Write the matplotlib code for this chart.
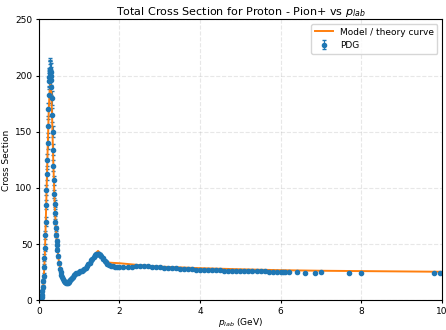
import matplotlib
matplotlib.use("Agg")
import matplotlib.pyplot as plt
import numpy as np

# PDG total cross section pi+ p
p_lab = [0.05, 0.07, 0.08, 0.09, 0.10, 0.11, 0.12, 0.13, 0.14, 0.15,
         0.16, 0.17, 0.18, 0.19, 0.20, 0.21, 0.22, 0.23, 0.24, 0.25,
         0.26, 0.265, 0.27, 0.275, 0.28, 0.285, 0.29, 0.295, 0.30, 0.305,
         0.31, 0.32, 0.33, 0.34, 0.35, 0.36, 0.37, 0.38, 0.39, 0.40,
         0.41, 0.42, 0.43, 0.44, 0.45, 0.46, 0.48, 0.50, 0.52, 0.54,
         0.56, 0.58, 0.60, 0.62, 0.64, 0.66, 0.68, 0.70, 0.72, 0.74,
         0.76, 0.78, 0.80, 0.82, 0.85, 0.88, 0.90, 0.93, 0.96, 1.00,
         1.03, 1.06, 1.10, 1.13, 1.16, 1.20, 1.23, 1.26, 1.30, 1.33,
         1.36, 1.40, 1.43, 1.46, 1.48, 1.50, 1.52, 1.55, 1.58, 1.60,
         1.63, 1.66, 1.70, 1.75, 1.80, 1.85, 1.90, 1.95, 2.00, 2.10,
         2.20, 2.30, 2.40, 2.50, 2.60, 2.70, 2.80, 2.90, 3.00, 3.10,
         3.20, 3.30, 3.40, 3.50, 3.60, 3.70, 3.80, 3.90, 4.00, 4.10,
         4.20, 4.30, 4.40, 4.50, 4.60, 4.70, 4.80, 4.90, 5.00, 5.10,
         5.20, 5.30, 5.40, 5.50, 5.60, 5.70, 5.80, 5.90, 6.00, 6.05,
         6.10, 6.20, 6.40, 6.60, 6.85, 7.00, 7.70, 8.00, 9.80, 9.95]
sigma = [1.0, 3.0, 5.0, 8.0, 12.0, 17.0, 22.0, 30.0, 38.0, 47.0,
         58.0, 70.0, 85.0, 98.0, 112.0, 125.0, 140.0, 155.0, 170.0, 183.0,
         195.0, 199.0, 202.0, 204.0, 205.0, 206.0, 204.0, 203.0, 200.0, 196.0,
         190.0, 180.0, 165.0, 150.0, 134.0, 120.0, 107.0, 95.0, 86.0, 78.0,
         70.0, 64.0, 58.0, 53.0, 49.0, 45.0, 39.0, 33.0, 28.0, 25.0,
         22.5, 20.5, 19.0, 17.5, 16.5, 16.0, 15.5, 15.3, 15.5, 16.0,
         16.8, 18.0, 19.0, 20.0, 21.0, 22.3, 23.0, 24.0, 24.6, 25.3,
         25.8, 26.4, 27.2, 28.0, 29.0, 30.5, 32.0, 33.5, 35.5, 37.0,
         38.5, 40.0, 40.8, 41.2, 41.5, 41.0, 40.5, 39.0, 37.5, 36.5,
         35.0, 33.8, 32.5, 31.5, 30.8, 30.3, 30.0, 29.8, 29.5, 29.4,
         29.6, 30.0, 30.5, 30.8, 30.7, 30.3, 29.9, 29.6, 29.3, 29.0,
         28.8, 28.6, 28.4, 28.2, 28.0, 27.8, 27.6, 27.4, 27.2, 27.0,
         26.9, 26.8, 26.7, 26.6, 26.5, 26.4, 26.3, 26.2, 26.1, 26.0,
         25.9, 25.9, 25.8, 25.7, 25.7, 25.6, 25.6, 25.5, 25.5, 25.2,
         25.4, 25.1, 25.0, 24.6, 24.5, 25.0, 24.5, 24.4, 24.3, 24.5]
sigma_err = [0.5, 0.8, 1.0, 1.2, 1.5, 2.0, 2.0, 2.5, 3.0, 3.0,
             3.5, 4.0, 4.0, 4.5, 5.0, 5.0, 5.5, 6.0, 6.0, 7.0,
             7.0, 8.0, 8.0, 9.0, 9.0, 10.0, 9.0, 8.0, 8.0, 7.0,
             7.0, 6.0, 6.0, 5.0, 5.0, 4.5, 4.0, 3.5, 3.0, 3.0,
             2.5, 2.5, 2.0, 2.0, 2.0, 1.5, 1.5, 1.2, 1.0, 1.0,
             0.8, 0.8, 0.8, 0.7, 0.7, 0.7, 0.7, 0.7, 0.7, 0.7,
             0.7, 0.8, 0.8, 0.8, 0.8, 0.8, 0.8, 0.8, 0.8, 0.8,
             0.8, 0.8, 0.8, 0.9, 0.9, 1.0, 1.0, 1.0, 1.0, 1.0,
             1.0, 1.2, 1.2, 1.2, 1.2, 1.2, 1.2, 1.0, 1.0, 1.0,
             1.0, 0.8, 0.8, 0.8, 0.6, 0.6, 0.6, 0.6, 0.6, 0.5,
             0.5, 0.5, 0.5, 0.5, 0.5, 0.5, 0.4, 0.4, 0.4, 0.4,
             0.4, 0.4, 0.4, 0.4, 0.4, 0.3, 0.3, 0.3, 0.3, 0.3,
             0.3, 0.3, 0.3, 0.3, 0.3, 0.3, 0.3, 0.3, 0.3, 0.3,
             0.3, 0.3, 0.3, 0.3, 0.3, 0.3, 0.3, 0.3, 0.3, 0.3,
             0.3, 0.3, 0.3, 0.3, 0.3, 0.3, 0.3, 0.3, 0.3, 0.3]

# model / theory curve
p_model = [0.0, 0.05, 0.08, 0.10, 0.12, 0.15, 0.18, 0.20, 0.22, 0.25,
           0.27, 0.29, 0.31, 0.33, 0.36, 0.40, 0.45, 0.50, 0.55, 0.60,
           0.65, 0.70, 0.75, 0.80, 0.90, 1.00, 1.10, 1.20, 1.30, 1.40,
           1.47, 1.55, 1.65, 1.75, 2.00, 2.30, 2.60, 3.00, 4.00, 5.00,
           6.00, 7.00, 8.00, 10.0]
sigma_model = [0.0, 1.0, 4.0, 9.0, 17.0, 40.0, 80.0, 108.0, 135.0, 172.0,
               187.0, 192.0, 185.0, 162.0, 122.0, 80.0, 50.0, 34.0, 25.5, 20.5,
               18.0, 17.0, 17.5, 18.8, 21.5, 23.5, 25.0, 28.5, 34.5, 41.5,
               44.0, 40.5, 35.5, 33.5, 33.0, 32.0, 31.0, 30.0, 28.6, 27.6,
               26.8, 26.3, 26.0, 25.4]

fig, ax = plt.subplots(figsize=(4.46, 3.30), dpi=100)
ax.errorbar(p_lab, sigma, yerr=sigma_err, fmt='o', ms=3, color='tab:blue',
            elinewidth=0.8, capsize=1.5, label='PDG')
ax.plot(p_model, sigma_model, color='tab:orange', lw=1.4, label='Model / theory curve')

ax.set_xlim(0, 10)
ax.set_ylim(0, 250)
ax.set_xlabel('$p_{lab}$ (GeV)', fontsize=6.5, labelpad=0)
ax.set_ylabel('Cross Section', fontsize=6.5, labelpad=3)
ax.set_title('Total Cross Section for Proton - Pion+ vs $p_{lab}$', fontsize=8, pad=3)
ax.tick_params(labelsize=6.5, length=2.5, pad=2)
ax.grid(True, linestyle='--', alpha=0.3)
ax.legend(loc='upper right', fontsize=6.5)

fig.subplots_adjust(left=0.087, right=0.991, bottom=0.09, top=0.941)
fig.savefig('out.png', dpi=100)
